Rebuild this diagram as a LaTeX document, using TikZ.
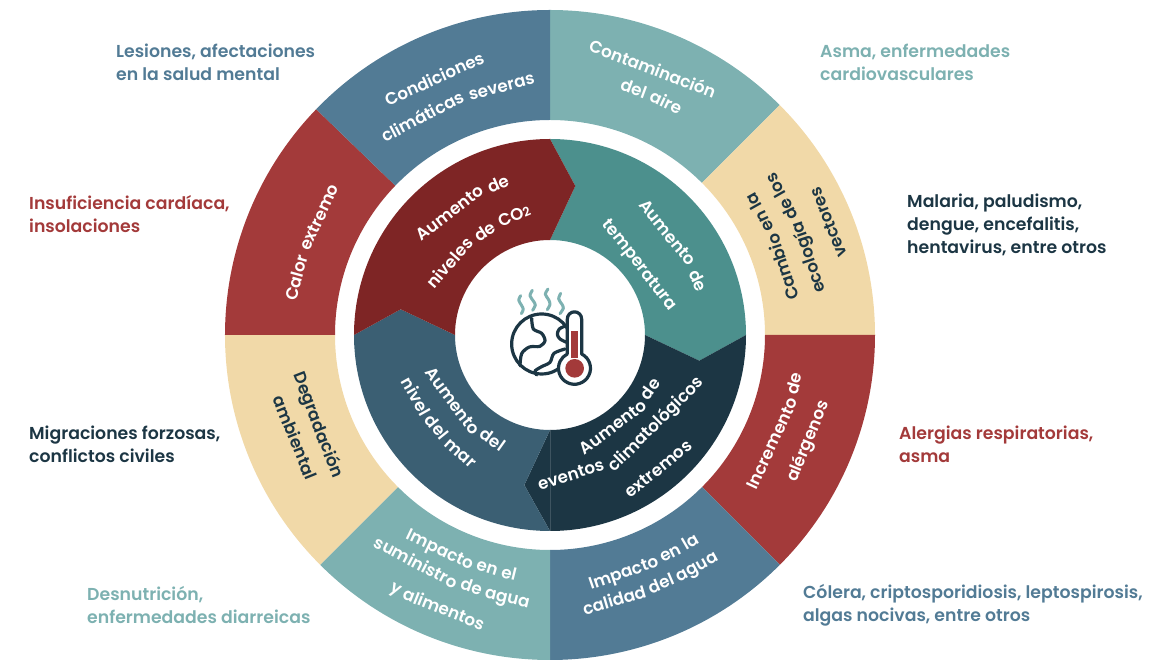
\documentclass[tikz,border=0pt]{standalone}
\usepackage{fontspec}
\setmainfont{Poppins}[UprightFont=* SemiBold,BoldFont=* Bold]
\definecolor{cteal}{HTML}{7DB1B1}
\definecolor{cblue}{HTML}{527B95}
\definecolor{cred}{HTML}{A33A3A}
\definecolor{cbeige}{HTML}{F1D9A8}
\definecolor{cdred}{HTML}{7E2525}
\definecolor{cdteal}{HTML}{4C908D}
\definecolor{cnavy}{HTML}{1C3644}
\definecolor{cmid}{HTML}{3B5F73}
\newcommand\ringseg[3]{\fill[#3] (#1:325pt) arc[start angle=#1,end angle=#2,radius=325pt] -- (#2:215pt) arc[start angle=#2,end angle=#1,radius=215pt] -- cycle;}
\newcommand\lab{\fontsize{16.8}{20}\selectfont}
\newcommand\subtwo{{\fontsize{12.5}{14}\selectfont 2}}
% mid angle, baseline radius, sign (1 clockwise with tops outward, -1 counter-clockwise with tops inward), colour, comma list of words
\newcommand\arcline[5]{%
  \pgfmathsetmacro\Rc{1.5*#2}%
  \pgfmathsetmacro\Cx{(#2-\Rc)*cos(#1)}%
  \pgfmathsetmacro\Cy{(#2-\Rc)*sin(#1)}%
  \def\spc{4.6}%
  \gdef\totw{-4.6}%
  \foreach \wrd in {#5}{%
    \setbox0=\hbox{\pgfinterruptpicture\lab\wrd\endpgfinterruptpicture}%
    \pgfmathparse{\totw+\the\wd0+\spc}%
    \xdef\totw{\pgfmathresult}%
  }%
  \pgfmathparse{-\totw/2}\xdef\curS{\pgfmathresult}%
  \foreach \wrd in {#5}{%
    \setbox0=\hbox{\pgfinterruptpicture\lab\wrd\endpgfinterruptpicture}%
    \pgfmathsetmacro\wdh{\the\wd0}%
    \pgfmathsetmacro\Th{#1-#3*(\curS+\wdh/2)/\Rc*57.2958}%
    \pgfmathsetmacro\Rot{\Th-#3*90}%
    \pgfmathsetmacro\Px{\Cx+\Rc*cos(\Th)}%
    \pgfmathsetmacro\Py{\Cy+\Rc*sin(\Th)}%
    \node[inner sep=0pt,anchor=base,rotate=\Rot,text=#4,font=\lab] at (\Px pt,\Py pt) {\wrd};%
    \pgfmathparse{\curS+\wdh+\spc}\xdef\curS{\pgfmathresult}%
  }%
}
\tikzset{sidelab/.style={inner sep=0pt,anchor=west,align=left,font=\fontsize{17.3}{23}\selectfont}}
\begin{document}
\begin{tikzpicture}[x=1pt,y=1pt]
\useasboundingbox (-550,-325) rectangle (619,335);
% outer ring
\ringseg{90}{45}{cteal}
\ringseg{45}{0}{cbeige}
\ringseg{0}{-45}{cred}
\ringseg{-45}{-90}{cblue}
\ringseg{-90}{-135}{cteal}
\ringseg{-135}{-180}{cbeige}
\ringseg{180}{136}{cred}
\ringseg{136}{90}{cblue}
% inner chevrons
\fill[cdteal] (90:196pt) arc[start angle=90,end angle=0,radius=196pt] -- (149.3,-25.7) -- (95,0) arc[start angle=0,end angle=90,radius=95pt] -- (25.3,149) -- cycle;
\fill[cnavy] (0:196pt) arc[start angle=0,end angle=-90,radius=196pt] -- (-25.7,-150) -- (0,-95) arc[start angle=-90,end angle=0,radius=95pt] -- (149.3,-25.7) -- cycle;
\fill[cmid] (-90:196pt) arc[start angle=-90,end angle=-180,radius=196pt] -- (-149.3,25.7) -- (-95,0) arc[start angle=180,end angle=270,radius=95pt] -- (-25.7,-150) -- cycle;
\fill[cdred] (180:196pt) arc[start angle=180,end angle=90,radius=196pt] -- (25.3,149) -- (0,95) arc[start angle=90,end angle=180,radius=95pt] -- (-149.3,25.7) -- cycle;
\draw[line width=0.4pt,cnavy!85!white] (0,-95) -- (0,-196);
% outer ring labels
\arcline{114.3}{275}{1}{white}{Condiciones}
\arcline{112}{246}{1}{white}{climáticas,severas}
\arcline{68.9}{279}{1}{white}{Contaminación}
\arcline{67}{254}{1}{white}{del,aire}
\arcline{21.7}{248}{-1}{cnavy}{Cambio,en,la}
\arcline{22.5}{275}{-1}{cnavy}{ecología,de,los}
\arcline{22}{306}{-1}{cnavy}{vectores}
\arcline{-23}{253}{-1}{white}{Incremento,de}
\arcline{-22.4}{284}{-1}{white}{alérgenos}
\arcline{-67.5}{254}{-1}{white}{Impacto,en,la}
\arcline{-68}{278}{-1}{white}{calidad,del,agua}
\arcline{248.2}{246}{-1}{white}{Impacto,en,el}
\arcline{247.7}{269}{-1}{white}{suministro,de,agua}
\arcline{247.4}{300}{-1}{white}{y,alimentos}
\arcline{201.2}{254}{-1}{cnavy}{Degradación}
\arcline{201.9}{281}{-1}{cnavy}{ambiental}
\arcline{158.7}{253}{1}{white}{Calor,extremo}
% inner ring labels
\arcline{124.5}{152}{1}{white}{Aumento,de}
\arcline{128.7}{116}{1}{white}{niveles,de,CO\subtwo}
\arcline{36}{150}{1}{white}{Aumento,de}
\arcline{38}{109}{1}{white}{temperatura}
\arcline{-49}{117}{-1}{white}{Aumento,de}
\arcline{-55}{142}{-1}{white}{eventos,climatológicos}
\arcline{-51}{178}{-1}{white}{extremos}
\arcline{221.5}{123}{-1}{white}{Aumento,del}
\arcline{218.3}{152}{-1}{white}{nivel,del,mar}
% side labels
\node[sidelab,text=cblue] (lesiones) at (-434,273) {Lesiones, afectaciones\\en la salud mental};
\node[sidelab,text=cred] (insuf) at (-521,121) {Insuficiencia cardíaca,\\insolaciones};
\node[sidelab,text=cteal] (asma) at (270,273) {Asma, enfermedades\\cardiovasculares};
\node[sidelab,text=cnavy] (malaria) at (357,110) {Malaria, paludismo,\\dengue, encefalitis,\\hentavirus, entre otros};
\node[sidelab,text=cred] (alergias) at (349,-109) {Alergias respiratorias,\\asma};
\node[sidelab,text=cnavy] (migr) at (-521,-109) {Migraciones forzosas,\\conflictos civiles};
\node[sidelab,text=cteal] (desn) at (-463,-270) {Desnutrición,\\enfermedades diarreicas};
\node[sidelab,text=cblue] (colera) at (253,-270) {Cólera, criptosporidiosis, leptospirosis,\\algas nocivas, entre otros};
% centre icon
\begin{scope}[shift={(-60,60)},x=0.3333pt,y=-0.3333pt,line cap=round,line join=round]
\draw[cteal,line width=3pt] plot[smooth] coordinates {(92,62) (86,75) (94,90) (100,103) (94,116)};
\draw[cteal,line width=3pt] plot[smooth] coordinates {(127,46) (120,62) (130,78) (136,90) (128,106)};
\draw[cteal,line width=3pt] plot[smooth] coordinates {(174,42) (166,58) (176,74) (180,88) (172,104)};
\draw[cteal,line width=3pt] plot[smooth] coordinates {(212,55) (206,72) (216,88) (220,100) (210,116)};
\draw[cnavy,line width=3.2pt] (155,207) circle[radius=90];
\draw[cnavy,line width=3.2pt] plot[smooth] coordinates {(125,130) (130,162) (155,175) (165,197) (150,214) (118,216) (95,236) (90,272)};
\draw[cnavy,line width=3.2pt] plot[smooth] coordinates {(228,152) (208,162) (202,178) (210,192) (232,203)};
\draw[cnavy,line width=3.2pt] plot[smooth] coordinates {(225,222) (192,235) (180,262) (155,275) (135,288) (140,300)};
\draw[cnavy,line width=3.2pt,fill=white] (232,237) -- (232,132) arc[start angle=180,end angle=360,radius=21.5] -- (275,237) arc[start angle=-63.4,end angle=243.4,radius=48] -- cycle;
\fill[cred] (243,168) rectangle (265,250);
\fill[cred] (254,280) circle[radius=28];
\end{scope}
\end{tikzpicture}
\end{document}
